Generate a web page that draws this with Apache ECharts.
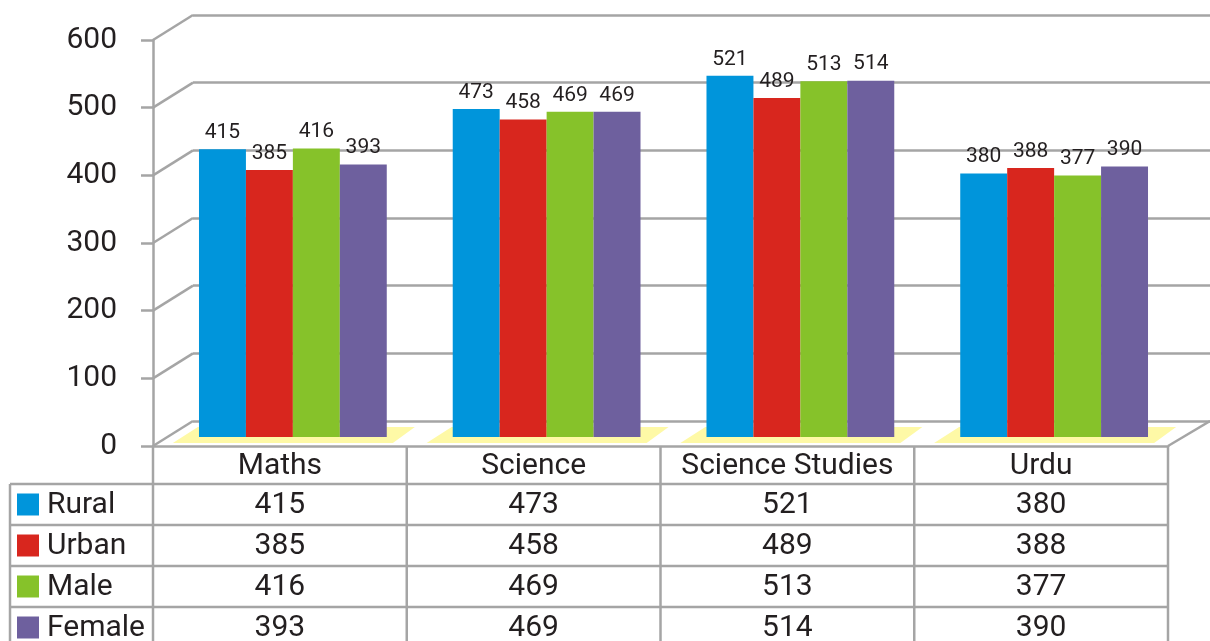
<!DOCTYPE html>
<html>
<head>
<meta charset="utf-8">
<script src="https://cdn.jsdelivr.net/npm/echarts@6/dist/echarts.min.js"></script>
<style>
  html, body { margin: 0; padding: 0; background: #fff; }
  #chart { width: 1210px; height: 641px; }
</style>
</head>
<body>
<div id="chart"></div>
<script>
// Datas
const categories = ['Maths', 'Science', 'Science Studies', 'Urdu']
const seriesNames = ['Rural', 'Urban', 'Male', 'Female']
const rural = [415, 473, 521, 380]
const urban = [385, 458, 489, 388]
const male = [416, 469, 513, 377]
const female = [393, 469, 514, 390]
const yTicks = [0, 100, 200, 300, 400, 500, 600]

const seriesData = [rural, urban, male, female]
const colors = ['#0095DB', '#D8261E', '#86C22A', '#6E609E']
const gray = '#A5A5A5'
const textColor = '#231F20'
const font = 'Roboto'

const chart = echarts.init(document.getElementById('chart'))

chart.setOption({
  animation: false,
  grid: [
    // bars plane
    { left: 166, right: 29, top: 21, bottom: 204 },
    // front axis
    { left: 153, right: 42, top: 40, bottom: 195 },
    // back wall
    { left: 193, right: 0, top: 15, bottom: 220 },
  ],
  xAxis: [
    { gridIndex: 0, type: 'category', data: categories, show: false },
    {
      gridIndex: 1, type: 'value', min: 0, max: categories.length,
      axisLine: { show: true, lineStyle: { color: gray, width: 2.5 } },
      axisTick: { show: false }, axisLabel: { show: false }, splitLine: { show: false },
    },
    { gridIndex: 2, type: 'value', min: 0, max: 1, show: false },
  ],
  yAxis: [
    { gridIndex: 0, type: 'value', min: yTicks[0], max: yTicks[yTicks.length - 1], show: false },
    {
      gridIndex: 1, type: 'value',
      min: yTicks[0], max: yTicks[yTicks.length - 1], interval: yTicks[1] - yTicks[0],
      axisLine: { show: true, lineStyle: { color: gray, width: 2.5 } },
      axisTick: { show: true, length: 12, lineStyle: { color: gray, width: 2.5 } },
      axisLabel: { color: textColor, fontSize: 30, fontFamily: font, margin: 36 },
      splitLine: { show: false },
    },
    {
      gridIndex: 2, type: 'value',
      min: yTicks[0], max: yTicks[yTicks.length - 1], interval: yTicks[1] - yTicks[0],
      axisLine: { show: false }, axisTick: { show: false }, axisLabel: { show: false },
      splitLine: { show: true, lineStyle: { color: gray, width: 2.5 } },
    },
  ],
  series: seriesNames.map((name, i) => ({
    name,
    type: 'bar',
    xAxisIndex: 0,
    yAxisIndex: 0,
    barGap: 0,
    barCategoryGap: '26%',
    z: 3,
    itemStyle: { color: colors[i] },
    label: {
      show: true, position: 'top', distance: 6,
      color: textColor, fontSize: 21, fontFamily: font,
    },
    data: seriesData[i],
  })),
})

// 3D walls, floor and data table
const px = (q, v) => chart.convertToPixel(q, v)
const fL = px({ xAxisIndex: 1 }, 0)
const fR = px({ xAxisIndex: 1 }, categories.length)
const bL = px({ xAxisIndex: 2 }, 0)
const bR = px({ xAxisIndex: 2 }, 1)
const f0 = px({ yAxisIndex: 1 }, 0)
const b0 = px({ yAxisIndex: 2 }, 0)

const lineEl = (x1, y1, x2, y2) => ({
  type: 'line', z: 1,
  shape: { x1, y1, x2, y2 },
  style: { stroke: gray, lineWidth: 2.5 },
})
const textEl = (text, x, y, align) => ({
  type: 'text', z: 4, x, y,
  style: {
    text, align: align || 'center', verticalAlign: 'middle',
    fontSize: 30, fontFamily: font, fill: textColor,
  },
})

const graphic = []

// diagonals front -> back
yTicks.forEach((v) => {
  graphic.push(lineEl(fL, px({ yAxisIndex: 1 }, v), bL, px({ yAxisIndex: 2 }, v)))
})
graphic.push(lineEl(fR, f0, bR, b0))

// floor shadows
categories.forEach((c, i) => {
  const cx = px({ xAxisIndex: 0 }, i)
  graphic.push({
    type: 'polygon', z: 0,
    shape: { points: [[cx - 120, f0 - 3], [cx + 100, f0 - 3], [cx + 122, b0 + 6], [cx - 95, b0 + 6]] },
    style: { fill: '#FEF9A6' },
  })
})

// table
const tableLeft = 10
const headerBottom = 484
const rowH = 41
const colW = (fR - fL) / categories.length

categories.forEach((c, i) => {
  graphic.push(textEl(c, fL + colW * (i + 0.5), (f0 + headerBottom) / 2 + 1))
})
for (let r = 0; r <= seriesNames.length; r++) {
  const y = headerBottom + r * rowH
  graphic.push(lineEl(tableLeft, y, fR, y))
}
graphic.push(lineEl(tableLeft, headerBottom, tableLeft, 641))
for (let i = 0; i <= categories.length; i++) {
  const x = fL + colW * i
  graphic.push(lineEl(x, f0, x, 641))
}
seriesNames.forEach((name, r) => {
  const cy = headerBottom + rowH * (r + 0.5)
  graphic.push({
    type: 'rect', z: 4,
    shape: { x: 17, y: cy - 11, width: 22, height: 22 },
    style: { fill: colors[r] },
  })
  graphic.push(textEl(name, 47, cy + 1, 'left'))
  seriesData[r].forEach((v, i) => {
    graphic.push(textEl(String(v), fL + colW * (i + 0.5), cy + 1))
  })
})

chart.setOption({ graphic })
</script>
</body>
</html>
